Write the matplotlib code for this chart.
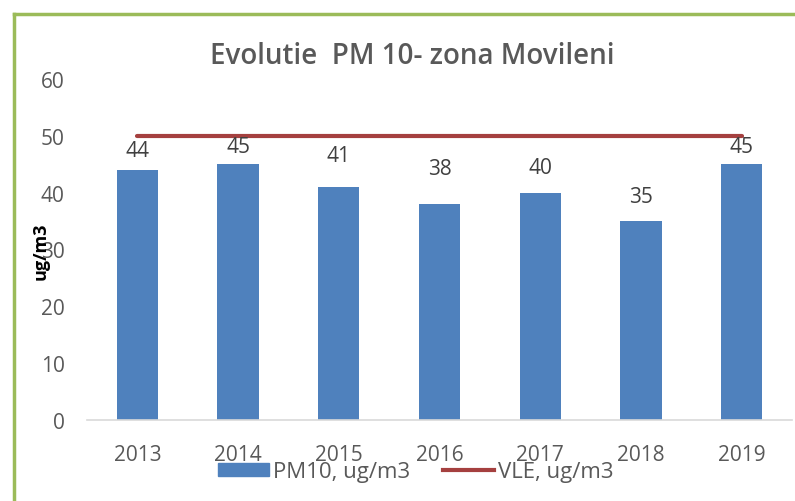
import matplotlib.pyplot as plt
from matplotlib.lines import Line2D
from matplotlib.patches import Patch

years = ['2013', '2014', '2015', '2016', '2017', '2018', '2019']
pm10 = [44, 45, 41, 38, 40, 35, 45]
vle = [50, 50, 50, 50, 50, 50, 50]
# how far each data label sits above its bar (pixels, as in the original)
label_offsets = [19, 18, 31, 36, 25, 25, 18]

bar_color = '#4F81BD'
line_color = '#A5403F'
text_color = '#595959'

plt.rcParams['font.family'] = ['Open Sans', 'DejaVu Sans']

fig = plt.figure(figsize=(7.95, 5.02), dpi=100)
ax = fig.add_axes([0.1094, 0.1614, 0.8868, 0.6792])

x = range(len(years))
bars = ax.bar(x, pm10, width=0.41, color=bar_color, zorder=2)
ax.plot(x, vle, color=line_color, linewidth=3, solid_capstyle='round', zorder=3)

for xi, val, off in zip(x, pm10, label_offsets):
    ax.annotate(str(val), (xi, val), xytext=(0, off * 0.72), textcoords='offset points',
                ha='center', va='center', fontsize=15, color='#404040')

ax.set_ylim(0, 60)
ax.set_xlim(-0.5, len(years) - 0.5)
ax.set_yticks(range(0, 61, 10))
ax.set_xticks(list(x))
ax.set_xticklabels(years)
ax.tick_params(axis='both', length=0, labelsize=15, labelcolor=text_color)
ax.tick_params(axis='y', pad=16)
ax.tick_params(axis='x', pad=17)
for side in ['top', 'right', 'left']:
    ax.spines[side].set_visible(False)
ax.spines['bottom'].set_color('#D9D9D9')
ax.spines['bottom'].set_linewidth(1.2)

fig.text(0.519, 0.888, 'Evolutie  PM 10- zona Movileni', ha='center', va='center',
         fontsize=20, fontweight='semibold', color=text_color)
fig.text(0.051, 0.50, 'ug/m3', rotation=90, ha='center', va='center',
         fontsize=13, fontweight='bold', color='black')

handles = [Patch(color=bar_color), Line2D([0], [0], color=line_color, linewidth=3)]
fig.legend(handles, ['PM10, ug/m3', 'VLE, ug/m3'], loc='center', ncol=2,
           bbox_to_anchor=(0.523, 0.058), frameon=False, fontsize=16,
           handlelength=2.3, handleheight=0.55, handletextpad=0.15,
           columnspacing=1.5, labelcolor=text_color)

# green outer frame (cropped at right and bottom in the original)
border = '#9BBB59'
fig.add_artist(Line2D([14 / 795, 14 / 795], [0, 1 - 15 / 502], color=border,
                      linewidth=2.5, transform=fig.transFigure))
fig.add_artist(Line2D([14 / 795, 1], [1 - 15 / 502, 1 - 15 / 502], color=border,
                      linewidth=2.5, transform=fig.transFigure))

fig.savefig('out.png', dpi=100)
